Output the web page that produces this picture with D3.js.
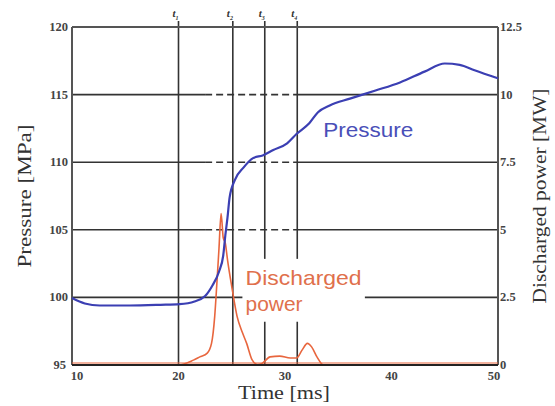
<!DOCTYPE html>
<html>
<head>
<meta charset="utf-8">
<script src="https://cdn.jsdelivr.net/npm/d3@7"></script>
<style>
body { margin: 0; background: #fff; }
text { font-family: "Liberation Serif", "DejaVu Serif", serif; }
text.series { font-family: "Liberation Sans", Arial, sans-serif; }
</style>
</head>
<body>
<div id="chart"></div>
<script>
var width = 555;
var height = 406;

// data
var pressureT = [10, 11.2, 12.6, 15.4, 18.3, 20.1, 21.5, 22.5, 23.2, 23.8, 24.2, 24.4, 24.6, 24.8, 25.3, 26.1, 27.0, 27.9, 28.9, 30.2, 31.1, 32.3, 33.1, 34.2, 36.1, 38.5, 40.8, 43.1, 45.0, 46.4, 47.8, 50];
var pressureP = [99.95, 99.55, 99.4, 99.4, 99.45, 99.5, 99.7, 100.1, 100.9, 101.9, 103.1, 104.6, 105.9, 107.4, 108.7, 109.6, 110.3, 110.5, 110.9, 111.4, 112.1, 112.9, 113.7, 114.2, 114.7, 115.3, 115.9, 116.7, 117.3, 117.2, 116.8, 116.2];
var powerT = [10, 20.0, 21.4, 22.0, 22.7, 23.1, 23.4, 23.6, 23.8, 24.0, 24.2, 24.4, 24.6, 25.0, 25.5, 26.0, 26.4, 26.9, 27.4, 27.8, 28.6, 29.5, 30.5, 31.1, 31.6, 32.1, 32.5, 33.0, 33.6, 50];
var powerMW = [0, 0, 0.18, 0.3, 0.44, 0.8, 1.8, 3.0, 4.3, 5.6, 4.7, 4.5, 3.9, 2.9, 1.8, 1.2, 0.8, 0.2, 0.02, 0.05, 0.3, 0.33, 0.26, 0.26, 0.55, 0.8, 0.67, 0.3, 0, 0];

var timeTicks = [10, 20, 30, 40, 50];
var pressureTicks = [95, 100, 105, 110, 115, 120];
var powerTicks = [0, 2.5, 5, 7.5, 10, 12.5];
var eventTimes = [20, 25.1, 28.1, 31.15];
var eventLabels = ["1", "2", "3", "4"];

var margin = {top: 27, right: 57, bottom: 41, left: 72};

var svg = d3.select("#chart").append("svg")
  .attr("width", width)
  .attr("height", height);

var x = d3.scaleLinear().domain([10, 50]).range([margin.left, width - margin.right]);
var yP = d3.scaleLinear().domain([95, 120]).range([height - margin.bottom, margin.top]);
var yW = d3.scaleLinear().domain([0, 12.5]).range([height - margin.bottom, margin.top]);

var gridColor = "#333";

// horizontal grid lines (dashed where they cross the middle)
[105, 110, 115].forEach(function(v) {
  svg.append("line").attr("x1", x(10)).attr("x2", x(22.5)).attr("y1", yP(v)).attr("y2", yP(v))
    .attr("stroke", gridColor).attr("stroke-width", 1.6);
  svg.append("line").attr("x1", x(22.5)).attr("x2", x(31.15)).attr("y1", yP(v)).attr("y2", yP(v))
    .attr("stroke", gridColor).attr("stroke-width", 1.6).attr("stroke-dasharray", "7,4");
  svg.append("line").attr("x1", x(31.15)).attr("x2", x(50)).attr("y1", yP(v)).attr("y2", yP(v))
    .attr("stroke", gridColor).attr("stroke-width", 1.6);
});
// 100 line broken by the label
svg.append("line").attr("x1", x(10)).attr("x2", x(26)).attr("y1", yP(100)).attr("y2", yP(100))
  .attr("stroke", gridColor).attr("stroke-width", 1.6);
svg.append("line").attr("x1", x(37.5)).attr("x2", x(50)).attr("y1", yP(100)).attr("y2", yP(100))
  .attr("stroke", gridColor).attr("stroke-width", 1.6);

// vertical event lines
eventTimes.forEach(function(t, i) {
  if (i < 2) {
    svg.append("line").attr("x1", x(t)).attr("x2", x(t)).attr("y1", yP(120) - 6).attr("y2", yP(95))
      .attr("stroke", gridColor).attr("stroke-width", 1.6);
  } else {
    svg.append("line").attr("x1", x(t)).attr("x2", x(t)).attr("y1", yP(120) - 6).attr("y2", yP(102.85))
      .attr("stroke", gridColor).attr("stroke-width", 1.6);
    svg.append("line").attr("x1", x(t)).attr("x2", x(t)).attr("y1", yP(98.2)).attr("y2", yP(95))
      .attr("stroke", gridColor).attr("stroke-width", 1.6);
  }
  var lab = svg.append("text")
    .attr("x", x(t) - 6)
    .attr("y", 17)
    .attr("font-size", 11)
    .attr("font-style", "italic")
    .attr("font-weight", "bold")
    .attr("fill", "#333");
  lab.append("tspan").text("t");
  lab.append("tspan").attr("dy", 3).attr("font-size", 6).text(eventLabels[i]);
});

// frame
svg.append("line").attr("x1", x(10)).attr("x2", x(50)).attr("y1", yP(120)).attr("y2", yP(120))
  .attr("stroke", "#555").attr("stroke-width", 2);
svg.append("line").attr("x1", x(10)).attr("x2", x(10)).attr("y1", yP(120)).attr("y2", yP(95))
  .attr("stroke", "#555").attr("stroke-width", 2);
svg.append("line").attr("x1", x(50)).attr("x2", x(50)).attr("y1", yP(120)).attr("y2", yP(95))
  .attr("stroke", "#555").attr("stroke-width", 2);

// power curve
var powerLine = d3.line()
  .x(function(d, i) { return x(powerT[i]); })
  .y(function(d) { return yW(d); })
  .curve(d3.curveMonotoneX);

svg.append("path")
  .datum(powerMW)
  .attr("d", powerLine)
  .attr("fill", "none")
  .attr("stroke", "#e8663e")
  .attr("stroke-width", 1.6);

// bottom axis line
svg.append("line").attr("x1", x(10)).attr("x2", x(50)).attr("y1", yP(95)).attr("y2", yP(95))
  .attr("stroke", "#222").attr("stroke-width", 2.2);
svg.append("line").attr("x1", x(10)).attr("x2", x(50)).attr("y1", yP(95) - 2).attr("y2", yP(95) - 2)
  .attr("stroke", "#e8663e").attr("stroke-width", 1.2);

// pressure curve
var pressureLine = d3.line()
  .x(function(d, i) { return x(pressureT[i]); })
  .y(function(d) { return yP(d); })
  .curve(d3.curveMonotoneX);

svg.append("path")
  .datum(pressureP)
  .attr("d", pressureLine)
  .attr("fill", "none")
  .attr("stroke", "#3b3fb3")
  .attr("stroke-width", 2.2);

// axes labels
var tickFont = 12.5;
svg.selectAll(".lt").data(pressureTicks).enter().append("text")
  .attr("x", function(d) { return d === 95 ? x(10) - 6 : x(10) - 4; })
  .attr("y", function(d) { return yP(d) + 4; })
  .attr("text-anchor", "end")
  .attr("font-size", tickFont)
  .attr("font-weight", "bold")
  .attr("fill", "#444")
  .text(function(d) { return d; });

svg.selectAll(".rt").data(powerTicks).enter().append("text")
  .attr("x", x(50) + 2)
  .attr("y", function(d) { return yW(d) + 4; })
  .attr("font-size", tickFont)
  .attr("font-weight", "bold")
  .attr("fill", "#444")
  .text(function(d) { return d; });

svg.selectAll(".bt").data(timeTicks).enter().append("text")
  .attr("x", function(d) { return x(d) + (d === 10 ? 5 : (d === 50 ? -4 : 0)); })
  .attr("y", yP(95) + 15)
  .attr("text-anchor", "middle")
  .attr("font-size", tickFont)
  .attr("font-weight", "bold")
  .attr("fill", "#444")
  .text(function(d) { return d; });

svg.append("text")
  .attr("transform", "translate(31," + yP(107.5) + ") rotate(-90)")
  .attr("text-anchor", "middle")
  .attr("font-size", 19)
  .attr("fill", "#333")
  .attr("textLength", 143)
  .attr("lengthAdjust", "spacingAndGlyphs")
  .text("Pressure [MPa]");

svg.append("text")
  .attr("transform", "translate(546," + yP(107.5) + ") rotate(-90)")
  .attr("text-anchor", "middle")
  .attr("font-size", 19)
  .attr("fill", "#333")
  .attr("textLength", 215)
  .attr("lengthAdjust", "spacingAndGlyphs")
  .text("Discharged power [MW]");

svg.append("text")
  .attr("x", 284)
  .attr("y", 399)
  .attr("text-anchor", "middle")
  .attr("font-size", 19)
  .attr("fill", "#333")
  .attr("textLength", 92)
  .attr("lengthAdjust", "spacingAndGlyphs")
  .text("Time [ms]");

// series labels
svg.append("text")
  .attr("class", "series")
  .attr("x", x(33.6))
  .attr("y", yP(111.9))
  .attr("font-size", 21)
  .attr("fill", "#4a4fb8")
  .attr("textLength", 90)
  .attr("lengthAdjust", "spacingAndGlyphs")
  .text("Pressure");

svg.append("text")
  .attr("class", "series")
  .attr("x", x(26.3))
  .attr("y", yP(100.9))
  .attr("font-size", 21)
  .attr("fill", "#e0704c")
  .attr("textLength", 116)
  .attr("lengthAdjust", "spacingAndGlyphs")
  .text("Discharged");

svg.append("text")
  .attr("class", "series")
  .attr("x", x(26.3))
  .attr("y", yP(98.98))
  .attr("font-size", 21)
  .attr("fill", "#e0704c")
  .attr("textLength", 57)
  .attr("lengthAdjust", "spacingAndGlyphs")
  .text("power");
</script>
</body>
</html>
